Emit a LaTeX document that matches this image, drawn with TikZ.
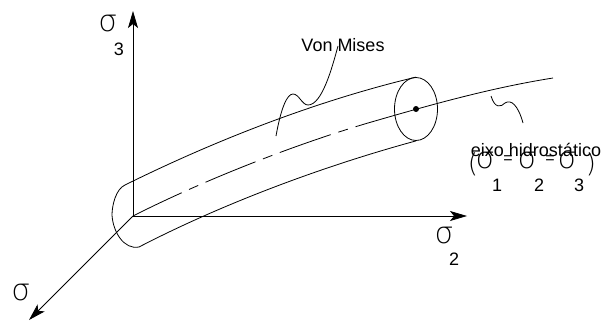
\documentclass[tikz,border=0pt]{standalone}
\usepackage{fontspec}
\setmainfont{Liberation Sans}
\newfontfamily\sigfont{DejaVu Sans ExtraLight}
\usepackage{tikz}
\usetikzlibrary{arrows.meta,shapes.geometric}
\tikzset{
  rotulo/.style={inner sep=0pt, font=\fontsize{18}{20}\selectfont},
  sigma/.style={inner sep=0pt, font=\sigfont\fontsize{30}{32}\selectfont},
  paren/.style={inner sep=0pt, font=\sigfont\fontsize{26}{28}\selectfont},
  igual/.style={inner sep=0pt, font=\fontsize{16}{18}\selectfont},
  eixo/.style={-{Stealth[length=17pt,width=10pt,inset=4pt]}, line width=0.8pt},
  linha/.style={line width=0.8pt},
}
\begin{document}
\begin{tikzpicture}[x=1pt,y=-1pt]
        \useasboundingbox (0,0) rectangle (601,321);
        \coordinate (o) at (133,216);
        \coordinate (s3) at (133,11);
        \coordinate (s2) at (467,216);
        \coordinate (s1) at (29,320);
        \draw[eixo] (o) -- (s3);
        \draw[eixo] (o) -- (s2);
        \draw[eixo] (o) -- (s1);
        \node[draw, ellipse, linha, minimum width=43pt, minimum height=63pt, inner sep=0pt] (fim) at (416,109) {};
        \node[circle, fill=black, minimum size=6pt, inner sep=0pt] (ponto) at (416,109) {};
        \coordinate (ctop) at (125,185);
        \coordinate (cbot) at (139,247);
        \draw[linha] (ctop) .. controls (116,189) and (112,205) .. (112,215)
          .. controls (113,232) and (124,250) .. (cbot);
        \draw[linha] (ctop) .. controls (220,138) and (320,100) .. (fim.north);
        \draw[linha] (cbot) .. controls (220,205) and (320,167) .. (fim.south);
        \draw[linha, dash pattern=on 54pt off 8pt on 10pt off 8pt] (o) .. controls (200,182) and (290,146) .. (368,123);
        \coordinate (a) at (368,123);
        \coordinate (b) at (553,78);
        \draw[linha] (a) .. controls (430,105) and (490,88) .. (b);
        \node[rotulo] (vm) at (343,45) {Von Mises};
        \coordinate (q1) at (276,136);
        \coordinate (q2) at (338,46);
        \draw[linha] (q1) .. controls (281,108) and (287,94) .. (293,94)
          .. controls (299,94) and (302,105) .. (308,105)
          .. controls (322,105) and (332,68) .. (q2);
        \coordinate (r1) at (491,96);
        \coordinate (r2) at (523,123);
        \draw[linha] (r1) .. controls (495,109) and (501,107) .. (505,103)
          .. controls (511,99) and (518,105) .. (r2);
        \node[rotulo] (hid) at (536,150) {eixo hidrostático};
        \node[sigma] (sg3) at (108,24) {σ};
        \node[rotulo] (n3) at (119,49) {3};
        \node[sigma] (sg2) at (444,235) {σ};
        \node[rotulo] (n2) at (454,259) {2};
        \node[sigma] (sg1) at (21,292) {σ};
        \node[paren] (pe) at (473,164) {(};
        \node[sigma] (a1) at (485,160) {σ};
        \node[igual] (i1) at (508,160) {=};
        \node[sigma] (a2) at (527,160) {σ};
        \node[igual] (i2) at (550,160) {=};
        \node[sigma] (a3) at (567,160) {σ};
        \node[paren] (pd) at (591,164) {)};
        \node[rotulo] (d1) at (497,185) {1};
        \node[rotulo] (d2) at (539,185) {2};
        \node[rotulo] (d3) at (579,185) {3};
      \end{tikzpicture}
\end{document}
